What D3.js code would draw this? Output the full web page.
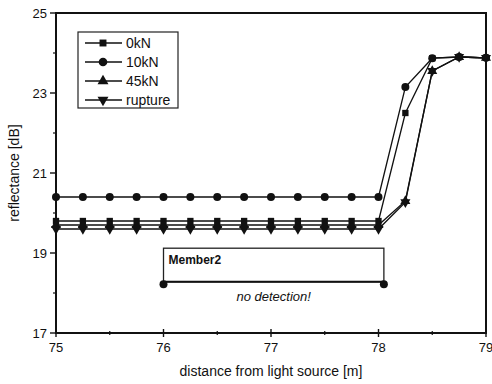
<!DOCTYPE html>
<html>
<head>
<meta charset="utf-8">
<script src="https://cdn.jsdelivr.net/npm/d3@7"></script>
<style>
  body { margin: 0; background: #fff; }
  text { font-family: "Liberation Sans", Arial, sans-serif; fill: #111; }
</style>
</head>
<body>
<div id="chart"></div>
<script>
// data
var distance = [75, 75.25, 75.5, 75.75, 76, 76.25, 76.5, 76.75, 77, 77.25, 77.5, 77.75, 78, 78.25, 78.5, 78.75, 79];
var kN0 = [19.8, 19.8, 19.8, 19.8, 19.8, 19.8, 19.8, 19.8, 19.8, 19.8, 19.8, 19.8, 19.8, 22.5, 23.87, 23.9, 23.88];
var kN10 = [20.4, 20.4, 20.4, 20.4, 20.4, 20.4, 20.4, 20.4, 20.4, 20.4, 20.4, 20.4, 20.4, 23.15, 23.87, 23.9, 23.88];
var kN45 = [19.7, 19.7, 19.7, 19.7, 19.7, 19.7, 19.7, 19.7, 19.7, 19.7, 19.7, 19.7, 19.7, 20.3, 23.55, 23.9, 23.88];
var rupture = [19.6, 19.6, 19.6, 19.6, 19.6, 19.6, 19.6, 19.6, 19.6, 19.6, 19.6, 19.6, 19.6, 20.27, 23.55, 23.9, 23.88];
var seriesNames = ["0kN", "10kN", "45kN", "rupture"];
var xTicks = [75, 76, 77, 78, 79];
var yTicks = [17, 19, 21, 23, 25];
var memberName = "Member2";
var memberRange = [76, 78.05];
var memberBox = [18.28, 19.12];
var noDetect = "no detection!";

var width = 492, height = 384;
var margin = {top: 13, right: 6, bottom: 51, left: 56};
var chartWidth = width - margin.left - margin.right;
var chartHeight = height - margin.top - margin.bottom;

var svg = d3.select("#chart").append("svg")
    .attr("width", width)
    .attr("height", height);

var g = svg.append("g")
    .attr("transform", `translate(${margin.left}, ${margin.top})`);

var x = d3.scaleLinear().domain([75, 79]).range([0, chartWidth]);
var y = d3.scaleLinear().domain([17, 25]).range([chartHeight, 0]);

// minor ticks
var xMinor = d3.range(75.5, 79, 1);
var yMinor = d3.range(18, 25, 2);

g.selectAll(".xminor").data(xMinor).enter().append("line")
    .attr("x1", d => x(d)).attr("x2", d => x(d))
    .attr("y1", chartHeight - 2).attr("y2", chartHeight + 2)
    .attr("stroke", "#111").attr("stroke-width", 1.2);
g.selectAll(".xmajor").data(xTicks).enter().append("line")
    .attr("x1", d => x(d)).attr("x2", d => x(d))
    .attr("y1", chartHeight - 4).attr("y2", chartHeight + 4)
    .attr("stroke", "#111").attr("stroke-width", 1.4);
g.selectAll(".xlab").data(xTicks).enter().append("text")
    .attr("x", d => x(d)).attr("y", chartHeight + 19)
    .attr("text-anchor", "middle").style("font-size", "13px")
    .text(d => d);

g.selectAll(".yminor").data(yMinor).enter().append("line")
    .attr("x1", -3).attr("x2", 0)
    .attr("y1", d => y(d)).attr("y2", d => y(d))
    .attr("stroke", "#111").attr("stroke-width", 1.2);
g.selectAll(".ymajor").data(yTicks).enter().append("line")
    .attr("x1", -6).attr("x2", 0)
    .attr("y1", d => y(d)).attr("y2", d => y(d))
    .attr("stroke", "#111").attr("stroke-width", 1.4);
g.selectAll(".ylab").data(yTicks).enter().append("text")
    .attr("x", -9).attr("y", d => y(d) + 4.5)
    .attr("text-anchor", "end").style("font-size", "13px")
    .text(d => d);

// frame
g.append("rect")
    .attr("width", chartWidth).attr("height", chartHeight)
    .attr("fill", "none").attr("stroke", "#111").attr("stroke-width", 2);

// axis titles
svg.append("text")
    .attr("x", margin.left + chartWidth / 2).attr("y", 376)
    .attr("text-anchor", "middle").style("font-size", "14px")
    .text("distance from light source [m]");
svg.append("text")
    .attr("transform", `translate(19, ${margin.top + chartHeight / 2}) rotate(-90)`)
    .attr("text-anchor", "middle").style("font-size", "14px")
    .text("reflectance [dB]");

// member box
g.append("rect")
    .attr("x", x(memberRange[0])).attr("y", y(memberBox[1]))
    .attr("width", x(memberRange[1]) - x(memberRange[0]))
    .attr("height", y(memberBox[0]) - y(memberBox[1]))
    .attr("fill", "none").attr("stroke", "#222").attr("stroke-width", 1.3);
g.append("line")
    .attr("x1", x(memberRange[0])).attr("x2", x(memberRange[1]))
    .attr("y1", y(memberBox[0])).attr("y2", y(memberBox[0]))
    .attr("stroke", "#111").attr("stroke-width", 2);
g.selectAll(".mdot").data(memberRange).enter().append("circle")
    .attr("cx", d => x(d)).attr("cy", y(18.22)).attr("r", 4)
    .attr("fill", "#111");
g.append("text")
    .attr("x", x(memberRange[0]) + 5).attr("y", y(memberBox[1]) + 16)
    .style("font-size", "12px").style("font-weight", "bold")
    .text(memberName);
g.append("text")
    .attr("x", x((memberRange[0] + memberRange[1]) / 2)).attr("y", y(18.22) + 17)
    .attr("text-anchor", "middle").style("font-size", "13px").style("font-style", "italic")
    .text(noDetect);

// series
var symbols = [d3.symbolSquare, d3.symbolCircle, d3.symbolTriangle, d3.symbolTriangle];
var sizes = [40, 50, 44, 44];
var allSeries = [kN0, kN10, kN45, rupture];

var line = d3.line().x(d => x(d[0])).y(d => y(d[1]));

allSeries.forEach(function(vals, i) {
    var pts = distance.map((d, j) => [d, vals[j]]);
    g.append("path").datum(pts)
        .attr("d", line)
        .attr("fill", "none").attr("stroke", "#111").attr("stroke-width", 1.3);
    g.selectAll(".m" + i).data(pts).enter().append("path")
        .attr("d", d3.symbol().type(symbols[i]).size(sizes[i]))
        .attr("transform", d => `translate(${x(d[0])}, ${y(d[1])})` + (i == 3 ? " rotate(180)" : ""))
        .attr("fill", "#111");
});

// legend
var legend = svg.append("g").attr("transform", "translate(78, 32)");
legend.append("rect")
    .attr("width", 100).attr("height", 76)
    .attr("fill", "#fff").attr("stroke", "#222").attr("stroke-width", 1.2);
seriesNames.forEach(function(name, i) {
    var ly = 11 + i * 19;
    legend.append("line")
        .attr("x1", 7).attr("x2", 44).attr("y1", ly).attr("y2", ly)
        .attr("stroke", "#111").attr("stroke-width", 1.3);
    legend.append("path")
        .attr("d", d3.symbol().type(symbols[i]).size(sizes[i] + 8))
        .attr("transform", `translate(25, ${ly})` + (i == 3 ? " rotate(180)" : ""))
        .attr("fill", "#111");
    legend.append("text")
        .attr("x", 48).attr("y", ly + 5)
        .style("font-size", "14px")
        .text(name);
});
</script>
</body>
</html>
